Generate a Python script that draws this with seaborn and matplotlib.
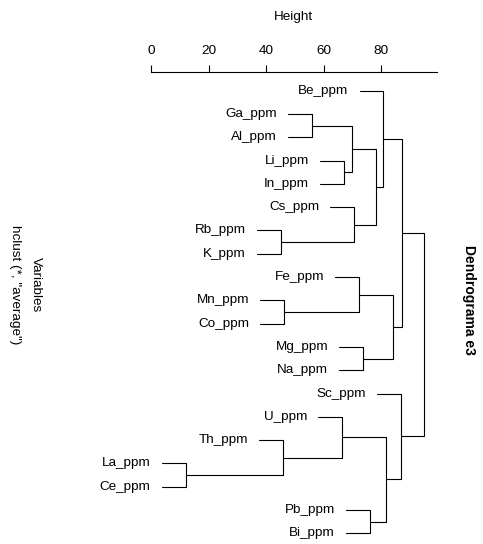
import numpy as np
import pandas as pd
import matplotlib
matplotlib.use("Agg")
import matplotlib.pyplot as plt
import seaborn as sns

# leaf order of the dendrogram, top to bottom
leaves = ["Be_ppm", "Ga_ppm", "Al_ppm", "Li_ppm", "In_ppm", "Cs_ppm", "Rb_ppm",
          "K_ppm", "Fe_ppm", "Mn_ppm", "Co_ppm", "Mg_ppm", "Na_ppm", "Sc_ppm",
          "U_ppm", "Th_ppm", "La_ppm", "Ce_ppm", "Pb_ppm", "Bi_ppm"]

# merge steps (like hclust$merge): a name is a leaf, an int is an earlier step (1-based)
merge_left = ["La_ppm", "Rb_ppm", "Th_ppm", "Mn_ppm", "Ga_ppm", "U_ppm", "Li_ppm",
              5, "Cs_ppm", "Fe_ppm", "Mg_ppm", "Pb_ppm", 8, "Be_ppm", 6, 10,
              "Sc_ppm", 14, 18]
merge_right = ["Ce_ppm", "K_ppm", 1, "Co_ppm", "Al_ppm", 3, "In_ppm",
               7, 2, 4, "Na_ppm", "Bi_ppm", 9, 13, 12, 11,
               15, 16, 17]
merge_height = [12.0, 45.0, 45.9, 46.2, 55.8, 66.4, 67.0,
                69.7, 70.6, 72.2, 73.7, 76.0, 78.0, 80.7, 81.5, 83.9,
                86.7, 87.0, 94.9]

height_ticks = [0, 20, 40, 60, 80]

hang = 0.1 * (max(merge_height) - min(merge_height))

# build elbow segments
leaf_pos = {name: i + 1 for i, name in enumerate(leaves)}
node_pos = {}
rows = []
label_rows = []
for step, (a, b, h) in enumerate(zip(merge_left, merge_right, merge_height), start=1):
    pts = []
    for child in (a, b):
        if isinstance(child, str):
            p = leaf_pos[child]
            ch = h - hang
            label_rows.append((child, ch, p))
        else:
            ch = merge_height[child - 1]
            p = node_pos[child]
        pts.append((ch, p))
    node_pos[step] = (pts[0][1] + pts[1][1]) / 2
    seg = [pts[0], (h, pts[0][1]), (h, pts[1][1]), pts[1]]
    for order, (x, y) in enumerate(seg):
        rows.append({"step": step, "order": order, "height": x, "pos": y})
segs = pd.DataFrame(rows)

sns.set_style("white")
plt.rcParams["font.family"] = ["Liberation Sans", "DejaVu Sans"]
plt.rcParams["text.color"] = "black"

fig = plt.figure(figsize=(4.83, 5.44), dpi=100)
ax = fig.add_axes([151 / 483, 0, 285.7 / 483, 472.3 / 544])

sns.lineplot(data=segs, x="height", y="pos", units="step", estimator=None,
             sort=False, color="black", linewidth=0.8, ax=ax, clip_on=False)

for name, x, y in label_rows:
    ax.annotate(name, (x, y), xytext=(-8, 0), textcoords="offset points",
                ha="right", va="center", fontsize=9.7, color="black",
                annotation_clip=False)

ax.set_xlim(0, 99.2)
ax.set_ylim(20.46, 0.185)
for side in ["left", "right", "bottom"]:
    ax.spines[side].set_visible(False)
ax.spines["top"].set_linewidth(0.8)
ax.spines["top"].set_color("black")
ax.xaxis.tick_top()
ax.xaxis.set_label_position("top")
ax.set_xticks(height_ticks)
ax.set_yticks([])
ax.tick_params(axis="x", direction="out", length=5.3, width=0.8, pad=5.5,
               labelsize=9.7, colors="black")
ax.set_xlabel("Height", fontsize=9.7, labelpad=18, color="black")
ax.set_ylabel("")
ax.grid(False)

fig.text(469 / 483, 1 - 300 / 544, "Dendrograma e3", rotation=270,
         fontweight="bold", fontsize=10, ha="center", va="center", color="black")
fig.text(36 / 483, 1 - 285 / 544, "Variables", rotation=270,
         fontsize=9.7, ha="center", va="center", color="black")
fig.text(15 / 483, 1 - 285 / 544, 'hclust (*, "average")', rotation=270,
         fontsize=9.7, ha="center", va="center", color="black")

fig.savefig("out.png", dpi=100)
